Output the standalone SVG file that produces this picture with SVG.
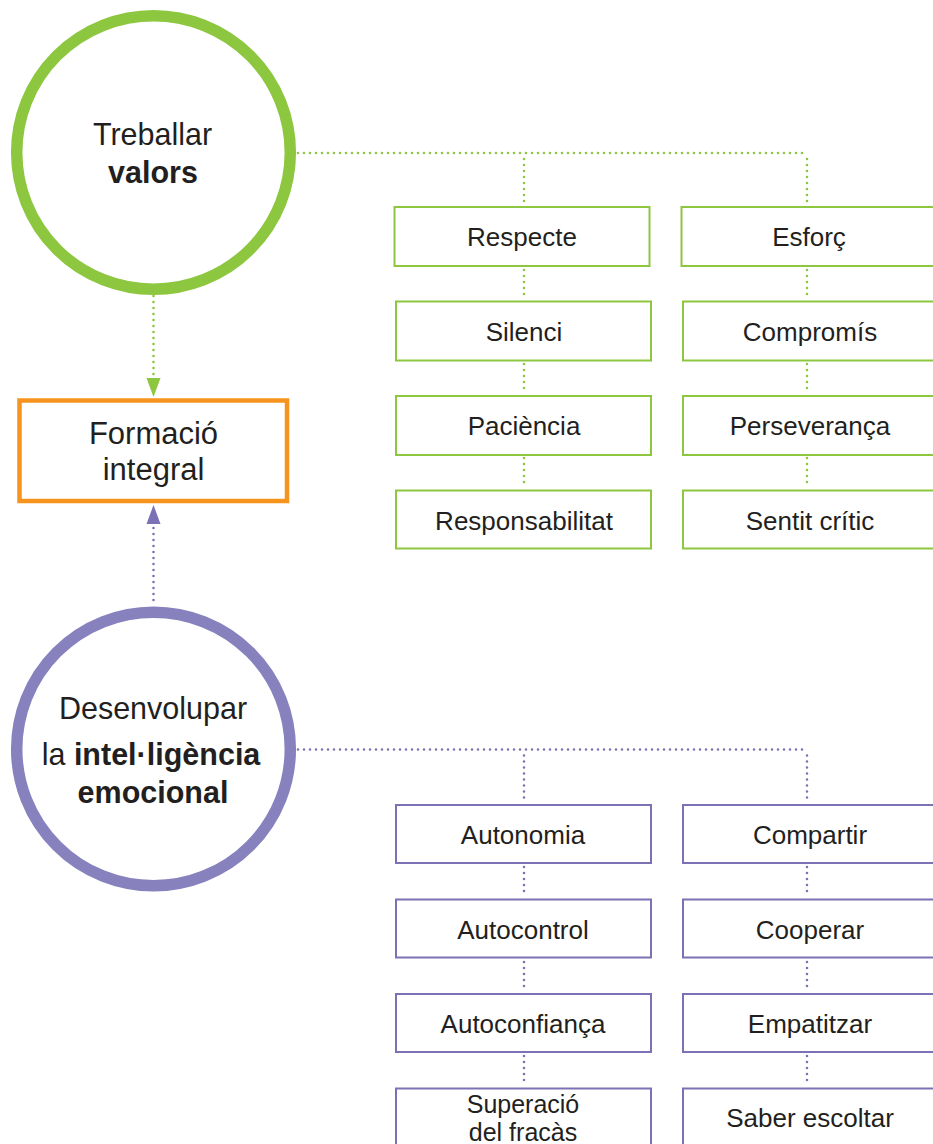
<svg xmlns="http://www.w3.org/2000/svg" width="933" height="1144" viewBox="0 0 933 1144">
<defs>
<style>
text{font-family:"Liberation Sans",Arial,Helvetica,sans-serif;fill:#231f20;text-anchor:middle}
.bx{font-size:26px}
.gbox{fill:#fff;stroke:#8dc63f;stroke-width:2}
.pbox{fill:#fff;stroke:#7b72b6;stroke-width:2}
.gdot{fill:none;stroke:#8dc63f;stroke-width:2.6;stroke-linecap:round;stroke-dasharray:0 6}
.pdot{fill:none;stroke:#7b72b6;stroke-width:2.6;stroke-linecap:round;stroke-dasharray:0 6}
.b{font-weight:bold}
</style>
</defs>
<rect width="933" height="1144" fill="#fff"/>
<g id="connectors">
<path class="gdot" d="M298 153 H807"/>
<path class="gdot" d="M524 159 V205 M807 159 V205"/>
<path class="gdot" d="M524 270 V299 M807 270 V299"/>
<path class="gdot" d="M524 364 V394 M807 364 V394"/>
<path class="gdot" d="M524 458 V488 M807 458 V488"/>
<path class="gdot" d="M153.5 296 V378"/>
<polygon points="146.5,378 160.5,378 153.5,397" fill="#8dc63f"/>
<path class="pdot" d="M153.5 528 V606"/>
<polygon points="146.5,524 160.5,524 153.5,505" fill="#7b72b6"/>
<path class="pdot" d="M298 749.5 H807"/>
<path class="pdot" d="M524 755.5 V803 M807 755.5 V803"/>
<path class="pdot" d="M524 867 V897 M807 867 V897"/>
<path class="pdot" d="M524 962 V992 M807 962 V992"/>
<path class="pdot" d="M524 1056 V1086 M807 1056 V1086"/>
</g>
<g id="valors">
<circle cx="153.5" cy="152.5" r="136.8" fill="#fff" stroke="#8dc63f" stroke-width="11.5"/>
<text x="152.5" y="145" style="font-size:30.5px">Treballar</text>
<text x="153" y="183" class="b" style="font-size:30.5px">valors</text>
</g>
<g id="formacio">
<rect x="19.5" y="400.5" width="267.5" height="100.5" fill="#fff" stroke="#f7941d" stroke-width="4.5"/>
<text x="153.5" y="443.5" style="font-size:31px">Formació</text>
<text x="153.5" y="480" style="font-size:31px">integral</text>
</g>
<g id="intelligencia">
<circle cx="153.5" cy="749" r="136.8" fill="#fff" stroke="#8781bd" stroke-width="11.5"/>
<text x="153" y="718.5" style="font-size:30.5px">Desenvolupar</text>
<text x="151" y="765" style="font-size:30.5px">la <tspan class="b">intel·ligència</tspan></text>
<text x="153" y="803" class="b" style="font-size:30.5px">emocional</text>
</g>
<g id="respecte"><rect class="gbox" x="394.5" y="207" width="255" height="59"/><text class="bx" x="522" y="246">Respecte</text></g>
<g id="silenci"><rect class="gbox" x="396" y="301.5" width="255" height="59"/><text class="bx" x="524" y="340.5">Silenci</text></g>
<g id="paciencia"><rect class="gbox" x="396" y="396" width="255" height="59"/><text class="bx" x="524" y="435">Paciència</text></g>
<g id="responsabilitat"><rect class="gbox" x="396" y="490.5" width="255" height="58"/><text class="bx" x="524" y="529.5">Responsabilitat</text></g>
<g id="esforc"><rect class="gbox" x="681.5" y="207" width="260" height="59"/><text class="bx" x="809" y="246">Esforç</text></g>
<g id="compromis"><rect class="gbox" x="683" y="301.5" width="260" height="59"/><text class="bx" x="810" y="340.5">Compromís</text></g>
<g id="perseveranca"><rect class="gbox" x="683" y="396" width="260" height="59"/><text class="bx" x="810" y="435">Perseverança</text></g>
<g id="sentit"><rect class="gbox" x="683" y="490.5" width="260" height="58"/><text class="bx" x="810" y="529.5">Sentit crític</text></g>
<g id="autonomia"><rect class="pbox" x="396" y="805" width="255" height="58"/><text class="bx" x="523" y="844">Autonomia</text></g>
<g id="autocontrol"><rect class="pbox" x="396" y="899.5" width="255" height="58"/><text class="bx" x="523" y="938.5">Autocontrol</text></g>
<g id="autoconfianca"><rect class="pbox" x="396" y="994" width="255" height="58"/><text class="bx" x="523" y="1033">Autoconfiança</text></g>
<g id="superacio"><rect class="pbox" x="396" y="1088.5" width="255" height="70"/><text x="523" y="1113" style="font-size:25px">Superació</text><text x="523" y="1141" style="font-size:25px">del fracàs</text></g>
<g id="compartir"><rect class="pbox" x="683" y="805" width="260" height="58"/><text class="bx" x="810" y="844">Compartir</text></g>
<g id="cooperar"><rect class="pbox" x="683" y="899.5" width="260" height="58"/><text class="bx" x="810" y="938.5">Cooperar</text></g>
<g id="empatitzar"><rect class="pbox" x="683" y="994" width="260" height="58"/><text class="bx" x="810" y="1033">Empatitzar</text></g>
<g id="escoltar"><rect class="pbox" x="683" y="1088.5" width="260" height="70"/><text class="bx" x="810" y="1127">Saber escoltar</text></g>
</svg>
